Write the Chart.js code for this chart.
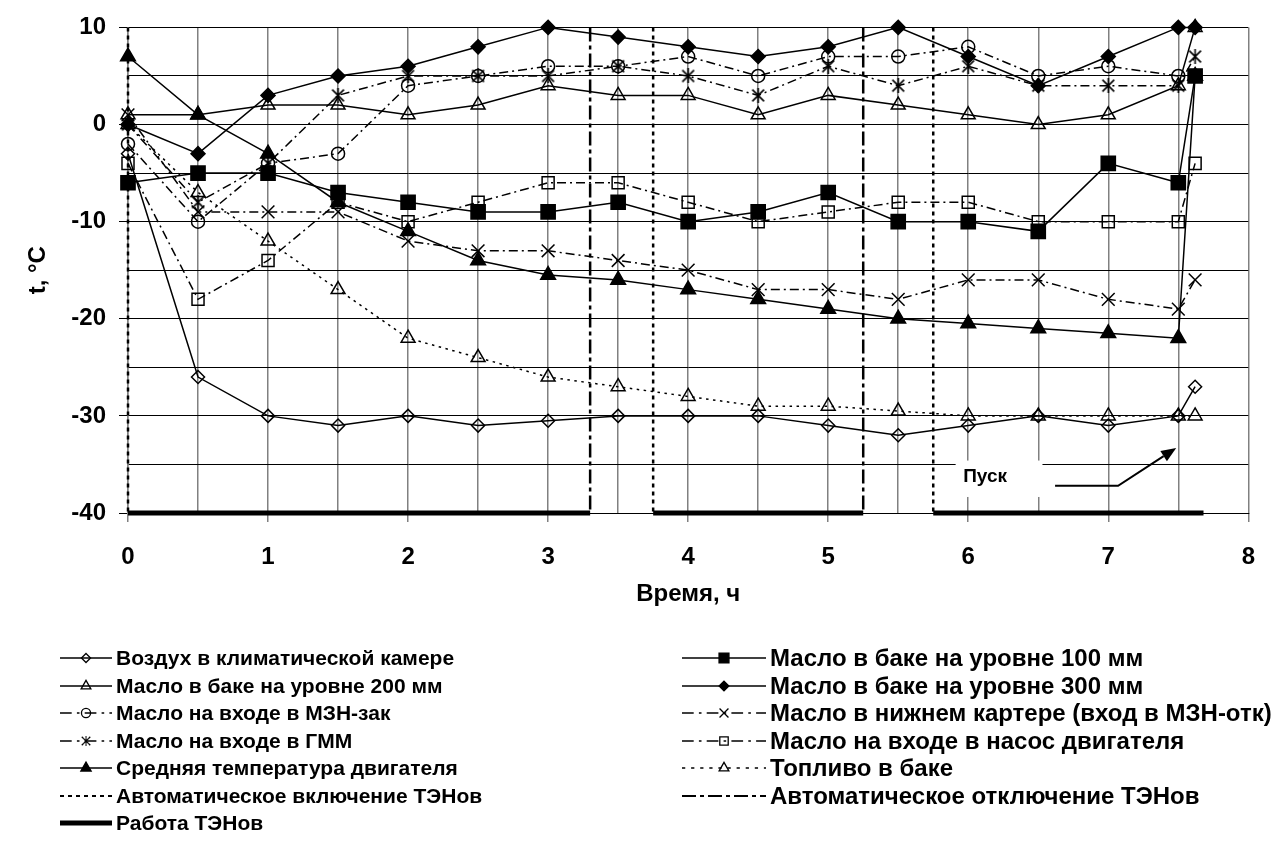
<!DOCTYPE html>
<html>
<head>
<meta charset="utf-8">
<script src="https://cdn.jsdelivr.net/npm/chart.js@4.4.1/dist/chart.umd.min.js"></script>
<style>
  html, body { margin: 0; padding: 0; background: #fff; }
  #wrap { position: relative; width: 1276px; height: 859px; overflow: hidden; }
  #chartBox { position: absolute; left: 0; top: 0; width: 1276px; height: 620px; }
  #legend { position: absolute; left: 0; top: 0; width: 1276px; height: 859px; }
  .lg-sample { position: absolute; }
  .lg-text { position: absolute; font-family: "Liberation Sans", Arial, sans-serif; font-weight: bold; color: #000; white-space: nowrap; line-height: 26px; height: 26px; }
</style>
</head>
<body>
<div id="wrap">
  <div id="chartBox"><canvas id="chart"></canvas></div>
  <div id="legend"></div>
</div>
<script>
// Время измерений, ч
const hours = [0, 0.5, 1, 1.5, 2, 2.5, 3, 3.5, 4, 4.5, 5, 5.5, 6, 6.5, 7, 7.5, 7.62];

// Температуры, °C
const airChamber   = [-3, -26, -30, -31, -30, -31, -30.5, -30, -30, -30, -31, -32, -31, -30, -31, -30, -27];
const oilTank100   = [-6, -5, -5, -7, -8, -9, -9, -8, -10, -9, -7, -10, -10, -11, -4, -6, 5];
const oilTank200   = [1, 1, 2, 2, 1, 2, 4, 3, 3, 1, 3, 2, 1, 0, 1, 4, 10];
const oilTank300   = [0, -3, 3, 5, 6, 8, 10, 9, 8, 7, 8, 10, 7, 4, 7, 10, 10];
const oilMznIn     = [-2, -10, -4, -3, 4, 5, 6, 6, 7, 5, 7, 7, 8, 5, 6, 5, 5];
const oilSump      = [1, -9, -9, -9, -12, -13, -13, -14, -15, -17, -17, -18, -16, -16, -18, -19, -16];
const oilGmmIn     = [0, -8, -4, 3, 5, 5, 5, 6, 5, 3, 6, 4, 6, 4, 4, 4, 7];
const oilPumpIn    = [-4, -18, -14, -8, -10, -8, -6, -6, -8, -10, -9, -8, -8, -10, -10, -10, -4];
const engineMean   = [7, 1, -3, -8, -11, -14, -15.5, -16, -17, -18, -19, -20, -20.5, -21, -21.5, -22, 5];
const fuelTank     = [0, -7, -12, -17, -22, -24, -26, -27, -28, -29, -29, -29.5, -30, -30, -30, -30, -30];

// Моменты включения / отключения ТЭНов и интервалы их работы, ч
const heaterOnAt  = [0, 3.75, 5.75];
const heaterOffAt = [3.3, 5.25];
const heaterWork  = [[0, 3.3], [3.75, 5.25], [5.75, 7.68]];

// Оси
const xRange = [0, 8];
const yRange = [-40, 10];
const xStep = 0.5;
const yStep = 5;
const yLabelStep = 10;

// Подпись момента пуска
const startText = 'Пуск';
const startTextAt = [6.12, -36.3];
const startBox = [5.91, -34.6, 6.53, -38.35];
const startArrow = [[6.62, -37.2], [7.07, -37.2], [7.485, -33.3]];

const FONT = '"Liberation Sans", Arial, sans-serif';
const NONE = 'rgba(0,0,0,0)';
const DASH_DOT = [9, 4, 2, 4];
const DOTS = [2.5, 4.5];

// маркер «звёздочка» (косой крест с вертикальной чертой)
function makeAsterisk(size, lw) {
  const c = document.createElement('canvas');
  c.width = size; c.height = size;
  const g = c.getContext('2d');
  g.strokeStyle = '#000'; g.lineWidth = lw;
  const m = lw;
  g.beginPath();
  g.moveTo(m, m); g.lineTo(size - m, size - m);
  g.moveTo(size - m, m); g.lineTo(m, size - m);
  g.moveTo(size / 2, 0); g.lineTo(size / 2, size);
  g.stroke();
  return c;
}
const asteriskBig = makeAsterisk(15, 1.6);

function series(label, ys, style) {
  return Object.assign({
    label,
    data: hours.map((h, i) => ({ x: h, y: ys[i] })),
    borderColor: '#000',
    borderWidth: 1.5,
    borderDash: [],
    pointBorderColor: '#000',
    pointBorderWidth: 1.5,
    pointBackgroundColor: NONE,
    tension: 0,
    fill: false,
    clip: false
  }, style);
}

function verticalLines(label, xs, style) {
  const data = [];
  xs.forEach((x, i) => {
    if (i > 0) data.push({ x: x, y: null });
    data.push({ x: x, y: yRange[1] }, { x: x, y: yRange[0] });
  });
  return Object.assign({ label, data, borderColor: '#000', pointRadius: 0, spanGaps: false, clip: false, fill: false }, style);
}

function segmentsAt(label, y, spans, style) {
  const data = [];
  spans.forEach((s, i) => {
    if (i > 0) data.push({ x: s[0], y: null });
    data.push({ x: s[0], y: y }, { x: s[1], y: y });
  });
  return Object.assign({ label, data, borderColor: '#000', pointRadius: 0, spanGaps: false, clip: false, fill: false }, style);
}

const datasets = [
  series('Воздух в климатической камере', airChamber, { pointStyle: 'rectRot', pointRadius: 6.5 }),
  series('Масло в баке на уровне 100 мм', oilTank100, { pointStyle: 'rect', pointRadius: 10, pointBackgroundColor: '#000' }),
  series('Масло в баке на уровне 200 мм', oilTank200, { pointStyle: 'triangle', pointRadius: 8 }),
  series('Масло в баке на уровне 300 мм', oilTank300, { pointStyle: 'rectRot', pointRadius: 7, pointBackgroundColor: '#000' }),
  series('Масло на входе в МЗН-зак', oilMznIn, { pointStyle: 'circle', pointRadius: 6.5, borderDash: DASH_DOT }),
  series('Масло в нижнем картере (вход в МЗН-отк)', oilSump, { pointStyle: 'crossRot', pointRadius: 9, borderDash: DASH_DOT }),
  series('Масло на входе в ГММ', oilGmmIn, { pointStyle: asteriskBig, pointRadius: 7.5, borderDash: DASH_DOT }),
  series('Масло на входе в насос двигателя', oilPumpIn, { pointStyle: 'rect', pointRadius: 8.5, borderDash: DASH_DOT }),
  series('Средняя температура двигателя', engineMean, { pointStyle: 'triangle', pointRadius: 8.5, pointBackgroundColor: '#000' }),
  series('Топливо в баке', fuelTank, { pointStyle: 'triangle', pointRadius: 8, borderDash: DOTS }),
  verticalLines('Автоматическое включение ТЭНов', heaterOnAt, { borderWidth: 2.5, borderDash: [4, 4] }),
  verticalLines('Автоматическое отключение ТЭНов', heaterOffAt, { borderWidth: 2.5, borderDash: [14, 4, 4, 4] }),
  segmentsAt('Работа ТЭНов', yRange[0], heaterWork, { borderWidth: 5, borderCapStyle: 'butt' })
];

const isMultiple = (v, step) => Math.abs(v / step - Math.round(v / step)) < 1e-6;

// белая плашка под подписью «Пуск», стрелка и сама подпись
const startNote = {
  id: 'startNote',
  beforeDatasetsDraw(chart) {
    const { ctx, scales: { x, y } } = chart;
    const x0 = x.getPixelForValue(startBox[0]), x1 = x.getPixelForValue(startBox[2]);
    const y0 = y.getPixelForValue(startBox[1]), y1 = y.getPixelForValue(startBox[3]);
    ctx.save();
    ctx.fillStyle = '#fff';
    ctx.fillRect(x0, y0, x1 - x0, y1 - y0);
    ctx.restore();
  },
  afterDatasetsDraw(chart) {
    const { ctx, scales: { x, y } } = chart;
    const pts = startArrow.map(p => [x.getPixelForValue(p[0]), y.getPixelForValue(p[1])]);
    ctx.save();
    ctx.strokeStyle = '#000';
    ctx.lineWidth = 2;
    ctx.setLineDash([]);
    ctx.beginPath();
    ctx.moveTo(pts[0][0], pts[0][1]);
    for (let i = 1; i < pts.length - 1; i++) ctx.lineTo(pts[i][0], pts[i][1]);
    const a = pts[pts.length - 2], b = pts[pts.length - 1];
    const ang = Math.atan2(b[1] - a[1], b[0] - a[0]);
    const headLen = 15, headHalf = 6;
    const bx = b[0] - Math.cos(ang) * headLen, by = b[1] - Math.sin(ang) * headLen;
    ctx.lineTo(bx, by);
    ctx.stroke();
    ctx.beginPath();
    ctx.moveTo(b[0], b[1]);
    ctx.lineTo(bx + Math.sin(ang) * headHalf, by - Math.cos(ang) * headHalf);
    ctx.lineTo(bx - Math.sin(ang) * headHalf, by + Math.cos(ang) * headHalf);
    ctx.closePath();
    ctx.fillStyle = '#000';
    ctx.fill();
    ctx.font = 'bold 19px ' + FONT;
    ctx.textAlign = 'center';
    ctx.textBaseline = 'middle';
    ctx.fillText(startText, x.getPixelForValue(startTextAt[0]), y.getPixelForValue(startTextAt[1]));
    ctx.restore();
  }
};

const chart = new Chart(document.getElementById('chart'), {
  type: 'line',
  data: { datasets },
  plugins: [startNote],
  options: {
    responsive: true,
    maintainAspectRatio: false,
    animation: false,
    events: [],
    layout: { padding: { left: 0, right: 24, top: 24, bottom: 0 } },
    plugins: { legend: { display: false }, tooltip: { enabled: false } },
    scales: {
      x: {
        type: 'linear',
        min: xRange[0], max: xRange[1],
        afterFit(scale) { scale.height = 107; },
        ticks: {
          stepSize: xStep,
          autoSkip: false,
          maxRotation: 0,
          padding: 21,
          color: '#000',
          font: { family: FONT, size: 24, weight: 'bold' },
          callback: v => isMultiple(v, 1) ? String(Math.round(v)) : ''
        },
        grid: {
          color: '#808080',
          lineWidth: 1.5,
          tickLength: 9,
          tickColor: c => (c.tick && isMultiple(c.tick.value, 1)) ? '#808080' : NONE
        },
        border: { color: '#000', width: 1 },
        title: {
          display: true,
          text: 'Время, ч',
          color: '#000',
          font: { family: FONT, size: 24, weight: 'bold' },
          padding: { top: 0, bottom: 11 }
        }
      },
      y: {
        type: 'linear',
        min: yRange[0], max: yRange[1],
        afterFit(scale) { scale.width = 128; },
        ticks: {
          stepSize: yStep,
          padding: 13,
          color: '#000',
          font: { family: FONT, size: 24, weight: 'bold' },
          callback: v => isMultiple(v, yLabelStep) ? String(v) : ''
        },
        grid: {
          color: '#000',
          lineWidth: 1,
          tickLength: 9,
          tickColor: c => (c.tick && isMultiple(c.tick.value, yLabelStep)) ? '#000' : NONE
        },
        border: { color: '#808080', width: 1.5 },
        title: {
          display: true,
          text: 't, °C',
          color: '#000',
          font: { family: FONT, size: 24, weight: 'bold' },
          padding: { top: 24, bottom: 0 }
        }
      }
    }
  }
});

// Легенда в две колонки
function drawMarker(g, ds, x, y, scale) {
  const style = ds.pointStyle;
  const r = (ds.pointRadius || 0) * scale;
  if (!r) return;
  g.save();
  g.setLineDash([]);
  g.lineWidth = 1.3;
  g.strokeStyle = '#000';
  g.fillStyle = ds.pointBackgroundColor || NONE;
  if (style instanceof HTMLCanvasElement) {
    const s = style.width * scale;
    g.drawImage(style, x - s / 2, y - s / 2, s, s);
    g.restore();
    return;
  }
  g.beginPath();
  if (style === 'rectRot') {
    g.moveTo(x, y - r); g.lineTo(x + r, y); g.lineTo(x, y + r); g.lineTo(x - r, y); g.closePath();
  } else if (style === 'rect') {
    const s = r * Math.SQRT1_2; g.rect(x - s, y - s, 2 * s, 2 * s);
  } else if (style === 'triangle') {
    const t = 2 * Math.PI / 3;
    g.moveTo(x, y - r);
    g.lineTo(x + Math.sin(t) * r, y - Math.cos(t) * r);
    g.lineTo(x + Math.sin(2 * t) * r, y - Math.cos(2 * t) * r);
    g.closePath();
  } else if (style === 'circle') {
    g.arc(x, y, r, 0, Math.PI * 2);
  } else if (style === 'crossRot') {
    const s = r * Math.SQRT1_2;
    g.moveTo(x - s, y - s); g.lineTo(x + s, y + s);
    g.moveTo(x + s, y - s); g.lineTo(x - s, y + s);
  }
  if (ds.pointBackgroundColor && ds.pointBackgroundColor !== NONE) g.fill();
  g.stroke();
  g.restore();
}

const legendRows = [
  [0, 1], [2, 3], [4, 5], [6, 7], [8, 9], [10, 11], [12, null]
];
const legendRowY0 = 658, legendRowStep = 27.5;
const legendCols = [
  { sampleX: 60, sampleW: 52, textX: 116, fontSize: 21 },
  { sampleX: 682, sampleW: 84, textX: 770, fontSize: 24 }
];

const legendBox = document.getElementById('legend');
legendRows.forEach((row, r) => {
  const yc = legendRowY0 + r * legendRowStep;
  row.forEach((di, c) => {
    if (di === null) return;
    const ds = datasets[di];
    const col = legendCols[c];
    const cv = document.createElement('canvas');
    cv.className = 'lg-sample';
    cv.width = col.sampleW; cv.height = 20;
    cv.style.left = col.sampleX + 'px';
    cv.style.top = (yc - 10) + 'px';
    const g = cv.getContext('2d');
    g.strokeStyle = '#000';
    const isRule = !ds.pointRadius && ds.borderWidth < 4;
    g.lineWidth = isRule ? 2 : Math.min(ds.borderWidth || 1.5, 5);
    g.lineCap = 'butt';
    const dash = (ds.borderDash || []).map(d => d * (isRule ? 1 : 1.3));
    g.setLineDash(dash);
    g.beginPath();
    g.moveTo(0, 10); g.lineTo(col.sampleW, 10);
    g.stroke();
    drawMarker(g, ds, col.sampleW / 2, 10, 0.7);
    legendBox.appendChild(cv);
    const t = document.createElement('div');
    t.className = 'lg-text';
    t.textContent = ds.label;
    t.style.fontSize = col.fontSize + 'px';
    t.style.left = col.textX + 'px';
    t.style.top = (yc - 13) + 'px';
    legendBox.appendChild(t);
  });
});
</script>
</body>
</html>
